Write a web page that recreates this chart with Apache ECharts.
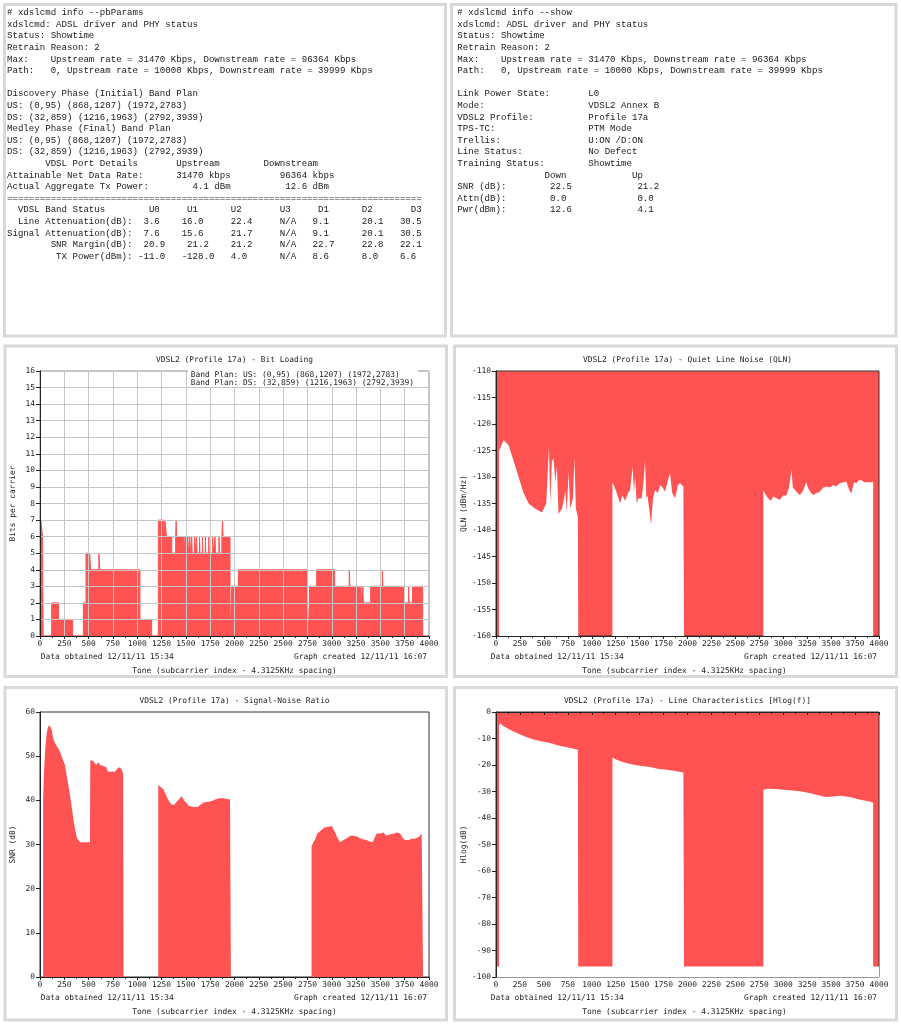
<!DOCTYPE html>
<html><head><meta charset="utf-8">
<script src="https://cdn.jsdelivr.net/npm/echarts@6/dist/echarts.min.js"></script>
<style>html,body{margin:0;padding:0;background:#fff}#c{width:901px;height:1024px}</style>
</head><body><div id="c"></div><script>
// ---------- data ----------
const toneMin = 0, toneMax = 4000, toneStep = 250;
const bitTicks = {min: 0, max: 16, interval: 1};
const qlnTicks = {min: -160, max: -110, interval: 5};
const snrTicks = {min: 0, max: 60, interval: 10};
const hlogTicks = {min: -100, max: 0, interval: 10};

const bandPlanUS = '(0,95) (868,1207) (1972,2783)';
const bandPlanDS = '(32,859) (1216,1963) (2792,3939)';
const dataObtained = 'Data obtained 12/11/11 15:34';
const graphCreated = 'Graph created 12/11/11 16:07';
const xAxisTitle = 'Tone (subcarrier index - 4.3125KHz spacing)';
const chartTitles = [
  'VDSL2 (Profile 17a) - Bit Loading',
  'VDSL2 (Profile 17a) - Quiet Line Noise (QLN)',
  'VDSL2 (Profile 17a) - Signal-Noise Ratio',
  'VDSL2 (Profile 17a) - Line Characteristics [Hlog(f)]'
];
const yNames = ['Bits per carrier', 'QLN (dBm/Hz)', 'SNR (dB)', 'Hlog(dB)'];

// bit loading: [tone, bits] change points (step)
const bitLoading = [[0,0],[8,7],[26,6],[32,0],[120,2],[190,1],[336,0],[446,2],[473,5],[500,3],[510,5],[521,4],[605,5],[615,4],[910,3],[918,4],[960,3],[968,4],[1028,1],[1148,0],
 [1217,7],[1268,6],[1285,7],[1300,6],[1355,5],[1395,6],[1400,7],[1405,6],[1470,5],[1480,6],[1490,5],[1500,6],[1505,5],[1520,6],[1525,5],[1540,6],[1545,5],[1560,6],[1565,5],[1590,6],[1597,5],[1610,6],[1615,5],[1640,6],[1645,5],[1670,6],[1675,5],[1700,6],[1705,5],[1735,6],[1740,5],[1775,6],[1780,5],[1800,6],[1805,5],[1840,6],[1845,5],[1870,6],[1877,7],[1882,6],[1954,0],
 [1972,3],[2040,4],[2370,3],[2378,4],[2420,3],[2428,4],[2625,3],[2633,4],[2680,3],[2688,4],[2750,2],[2765,0],
 [2772,3],[2845,4],[3030,3],[3090,2],[3098,3],[3180,4],[3186,3],[3290,2],[3300,3],[3305,2],[3320,3],[3325,2],[3400,3],[3520,4],[3526,3],[3728,2],[3740,3],[3745,2],[3790,3],[3795,2],[3830,3],[3935,0],[4000,0]];

// quiet line noise (dBm/Hz)
const qln = [[0,-160],[32,-160],[32,-125],[45,-124.5],[80,-123],[132,-124],[202,-128],[236,-130],[288,-133],[341,-135],[410,-136],[480,-136.7],[525,-135],[553,-124],[566,-135],[584,-127],[601,-126.5],[619,-131],[636,-128],[653,-137],[688,-136],[712,-134],[723,-132.5],[740,-136.5],[758,-129],[775,-136],[803,-134],[820,-126.5],[834,-136],[855,-137.5],[859,-137.5],[859,-160],
 [1216,-160],[1216,-131],[1240,-132],[1261,-133],[1296,-135],[1320,-133.5],[1348,-134.5],[1380,-133],[1400,-132.5],[1428,-128],[1440,-133],[1453,-130],[1470,-135],[1487,-134],[1522,-134],[1540,-131],[1557,-127],[1570,-134],[1581,-133.5],[1600,-136],[1619,-139],[1640,-134],[1661,-132.5],[1690,-133],[1713,-131.5],[1740,-132],[1765,-132.8],[1790,-131],[1817,-129.3],[1840,-133],[1870,-134],[1900,-131.5],[1922,-131.2],[1957,-131.8],[1963,-132],[1963,-160],
 [2792,-160],[2792,-132.5],[2820,-133.5],[2842,-134],[2870,-134.5],[2894,-133.7],[2930,-134],[2964,-134.3],[3000,-133.5],[3034,-133.5],[3060,-132],[3086,-128.7],[3100,-132],[3120,-131.8],[3150,-133],[3173,-133.4],[3210,-132.5],[3240,-131],[3260,-132.1],[3290,-133],[3312,-133.4],[3350,-133],[3381,-132.8],[3420,-132],[3451,-131.8],[3490,-132],[3520,-131.5],[3550,-131.8],[3590,-131.2],[3630,-131],[3659,-130.9],[3690,-132.5],[3711,-133.1],[3740,-131],[3763,-131.2],[3790,-130.6],[3816,-130.6],[3850,-131],[3868,-131.2],[3900,-131],[3939,-131],[3939,-160],[4000,-160]];

// signal-noise ratio (dB)
const snr = [[32,0],[32,40],[40,46],[45,48],[55,52],[69,55],[80,56.5],[93,57],[110,56.5],[120,56],[135,54],[154,53],[180,52],[206,51],[230,49.5],[257,48],[275,45.5],[291,43.5],[310,41],[326,38.5],[345,35.5],[360,33.5],[380,31.5],[411,30.5],[450,30.5],[514,30.5],[517,49],[540,49],[560,48.5],[580,48],[600,48.7],[617,48],[650,47.8],[680,47.5],[700,46.5],[720,46.5],[750,46.5],[771,46.5],[800,47.3],[823,47.5],[840,47],[855,46],[859,46],[859,0],
 [1216,0],[1216,43.5],[1240,43],[1268,42.5],[1300,41],[1320,40],[1354,39],[1380,39],[1410,39.8],[1440,40.5],[1457,41],[1480,40],[1500,39.5],[1530,38.8],[1577,38.5],[1620,38.5],[1650,39],[1680,39.5],[1714,39.6],[1760,39.8],[1800,40.2],[1840,40.5],[1885,40.5],[1920,40.3],[1954,40.2],[1963,40],[1963,0],
 [2792,0],[2792,29.5],[2810,30.5],[2830,31.2],[2850,32.5],[2880,33],[2920,33.8],[2960,34],[3000,34.2],[3017,34],[3040,32.5],[3060,31.5],[3085,30.5],[3120,31],[3160,31.5],[3190,32],[3222,32],[3260,31.8],[3290,31.4],[3320,31.2],[3359,31],[3390,30.7],[3420,30.5],[3440,31.5],[3462,32.5],[3500,32.5],[3530,32.7],[3565,32],[3600,32.3],[3640,32.5],[3670,32.7],[3702,32.5],[3730,31.5],[3752,31],[3790,31],[3820,31.3],[3850,31.3],[3874,31.5],[3900,31.8],[3925,32.5],[3939,32.5],[3939,0]];

// line characteristics Hlog (dB)
const hlog = [[0,-96],[32,-96],[32,-5],[45,-4.2],[80,-5.4],[150,-6.8],[219,-7.9],[300,-9.2],[393,-10.4],[480,-11.1],[566,-11.7],[650,-12.6],[740,-13.3],[800,-13.8],[855,-14.2],[859,-14.3],[859,-96],
 [1216,-96],[1216,-17.3],[1260,-18],[1331,-19],[1400,-19.6],[1435,-19.9],[1520,-20.4],[1609,-20.8],[1700,-21.5],[1783,-21.8],[1870,-22.3],[1957,-22.8],[1963,-22.9],[1963,-96],
 [2792,-96],[2792,-29.2],[2850,-29],[2920,-29.1],[2999,-29.3],[3090,-29.6],[3173,-29.9],[3260,-30.5],[3346,-31.2],[3410,-31.8],[3451,-32.1],[3520,-31.9],[3590,-31.6],[3650,-31.9],[3694,-32.1],[3770,-32.8],[3833,-33.3],[3900,-33.8],[3939,-34.2],[3939,-96],[4000,-96]];

// terminal text
function cols(parts){ let s=''; for (const [c,t] of parts){ while(s.length<c) s+=' '; if(s.length && s[s.length-1]!==' ' && c>0) s+=' '; s+=t; } return s; }
const headerLines = [
  'xdslcmd: ADSL driver and PHY status',
  'Status: Showtime',
  'Retrain Reason: 2',
  'Max:    Upstream rate = 31470 Kbps, Downstream rate = 96364 Kbps',
  'Path:   0, Upstream rate = 10000 Kbps, Downstream rate = 39999 Kbps',
  ''
];
const pbParamsLines = ['# xdslcmd info --pbParams'].concat(headerLines, [
  'Discovery Phase (Initial) Band Plan',
  'US: (0,95) (868,1207) (1972,2783)',
  'DS: (32,859) (1216,1963) (2792,3939)',
  'Medley Phase (Final) Band Plan',
  'US: (0,95) (868,1207) (1972,2783)',
  'DS: (32,859) (1216,1963) (2792,3939)',
  cols([[7,'VDSL Port Details'],[31,'Upstream'],[47,'Downstream']]),
  cols([[0,'Attainable Net Data Rate:'],[31,'31470 kbps'],[50,'96364 kbps']]),
  cols([[0,'Actual Aggregate Tx Power:'],[34,'4.1 dBm'],[51,'12.6 dBm']]),
  '============================================================================',
  cols([[2,'VDSL Band Status'],[26,'U0'],[33,'U1'],[41,'U2'],[50,'U3'],[57,'D1'],[65,'D2'],[74,'D3']]),
  cols([[2,'Line Attenuation(dB):'],[25,'3.6'],[32,'16.0'],[41,'22.4'],[50,'N/A'],[56,'9.1'],[65,'20.1'],[72,'30.5']]),
  cols([[0,'Signal Attenuation(dB):'],[25,'7.6'],[32,'15.6'],[41,'21.7'],[50,'N/A'],[56,'9.1'],[65,'20.1'],[72,'30.5']]),
  cols([[8,'SNR Margin(dB):'],[25,'20.9'],[33,'21.2'],[41,'21.2'],[50,'N/A'],[56,'22.7'],[65,'22.8'],[72,'22.1']]),
  cols([[9,'TX Power(dBm):'],[24,'-11.0'],[32,'-128.0'],[41,'4.0'],[50,'N/A'],[56,'8.6'],[65,'8.0'],[72,'6.6']])
]);
const showLines = ['# xdslcmd info --show'].concat(headerLines, [
  cols([[0,'Link Power State:'],[24,'L0']]),
  cols([[0,'Mode:'],[24,'VDSL2 Annex B']]),
  cols([[0,'VDSL2 Profile:'],[24,'Profile 17a']]),
  cols([[0,'TPS-TC:'],[24,'PTM Mode']]),
  cols([[0,'Trellis:'],[24,'U:ON /D:ON']]),
  cols([[0,'Line Status:'],[24,'No Defect']]),
  cols([[0,'Training Status:'],[24,'Showtime']]),
  cols([[16,'Down'],[32,'Up']]),
  cols([[0,'SNR (dB):'],[17,'22.5'],[33,'21.2']]),
  cols([[0,'Attn(dB):'],[17,'0.0'],[33,'0.0']]),
  cols([[0,'Pwr(dBm):'],[17,'12.6'],[33,'4.1']])
]);

// ---------- layout / style ----------
const RED = '#ff5353';
const MONO = '"DejaVu Sans Mono", monospace';
const TERM = '"Liberation Mono", monospace';
const chartFont = '7.9px ' + MONO;
const grids = [
  {left: 40, top: 371, width: 389, height: 265},
  {left: 496, top: 371, width: 383, height: 265},
  {left: 40, top: 712, width: 389, height: 265},
  {left: 496, top: 712, width: 383, height: 265}
];
const panelOffsetX = [0, 450, 0, 450];
const panelTopY = [340, 340, 681, 681];
const yTicks = [bitTicks, qlnTicks, snrTicks, hlogTicks];
const nameGaps = [23.5, 28, 23.5, 28.5];
const gridBg = ['#ffffff', RED, '#ffffff', RED];

const chart = echarts.init(document.getElementById('c'), null, {renderer: 'canvas'});
const plain = v => String(v);

const gridOpts = grids.map((g, i) => Object.assign({}, g, {
  show: true, backgroundColor: gridBg[i], borderColor: i === 0 ? '#8a8a8a' : '#333', borderWidth: 1, containLabel: false
}));
const xAxes = grids.map((g, i) => ({
  type: 'value', gridIndex: i, min: toneMin, max: toneMax, interval: toneStep, z: 5,
  axisLine: {show: true, lineStyle: {color: '#222', width: 1}},
  axisTick: {show: true, length: 3, lineStyle: {color: '#222'}},
  minorTick: {show: true, splitNumber: 2, length: 2, lineStyle: {color: '#222'}},
  axisLabel: {show: true, margin: 4, color: '#222', fontFamily: MONO, fontSize: 7.9, showMinLabel: true, showMaxLabel: true, formatter: plain},
  splitLine: {show: i === 0, lineStyle: {color: '#c6c6c6', width: 1}}
}));
const yAxes = grids.map((g, i) => ({
  type: 'value', gridIndex: i, min: yTicks[i].min, max: yTicks[i].max, interval: yTicks[i].interval, z: 5,
  name: yNames[i], nameLocation: 'middle', nameGap: nameGaps[i], nameRotate: 90,
  nameTextStyle: {fontFamily: MONO, fontSize: 7.9, color: '#222'},
  axisLine: {show: true, lineStyle: {color: '#222', width: 1}},
  axisTick: {show: true, length: 4, lineStyle: {color: '#222'}},
  axisLabel: {show: true, margin: 5, color: '#222', fontFamily: MONO, fontSize: 7.9, showMinLabel: true, showMaxLabel: true, formatter: plain},
  splitLine: {show: i === 0, lineStyle: {color: '#c6c6c6', width: 1}}
}));

const series = [
  {type: 'line', xAxisIndex: 0, yAxisIndex: 0, data: bitLoading, step: 'end', symbol: 'none',
   lineStyle: {color: RED, width: 1}, areaStyle: {color: RED, opacity: 1}},
  {type: 'line', xAxisIndex: 1, yAxisIndex: 1, data: qln, symbol: 'none',
   lineStyle: {color: '#fff', width: 0}, areaStyle: {color: '#fff', opacity: 1, origin: 'start'}},
  {type: 'line', xAxisIndex: 2, yAxisIndex: 2, data: snr, symbol: 'none',
   lineStyle: {color: RED, width: 0}, areaStyle: {color: RED, opacity: 1, origin: 'start'}},
  {type: 'line', xAxisIndex: 3, yAxisIndex: 3, data: hlog, symbol: 'none',
   lineStyle: {color: '#fff', width: 0}, areaStyle: {color: '#fff', opacity: 1, origin: 'start'}}
];

// graphics: panel frames, terminal text, chart titles/footers
const panels = [
  [4.5, 4.5, 441, 331.5], [451.5, 4.5, 444.5, 331.5],
  [5, 346, 441.5, 330.5], [454.5, 346, 442, 330.5],
  [5, 687.5, 441.5, 332.5], [454.5, 687.5, 442, 332.5]
];
const graphic = [];
panels.forEach(p => graphic.push({type: 'rect', z: 1, silent: true,
  shape: {x: p[0], y: p[1], width: p[2], height: p[3]},
  style: {fill: 'none', stroke: '#d9d9d9', lineWidth: 3}}));
graphic.push({type: 'text', z: 10, style: {x: 7, y: 6.9, text: pbParamsLines.join('\n'), font: '9.1px ' + TERM, fill: '#1a1a1a', lineHeight: 11.6, verticalAlign: 'top', align: 'left'}});
graphic.push({type: 'text', z: 10, style: {x: 457.3, y: 6.9, text: showLines.join('\n'), font: '9.1px ' + TERM, fill: '#1a1a1a', lineHeight: 11.6, verticalAlign: 'top', align: 'left'}});

grids.forEach((g, i) => {
  const ox = panelOffsetX[i], py = panelTopY[i];
  graphic.push({type: 'text', z: 10, style: {x: g.left + g.width / 2, y: py + 19.5, text: chartTitles[i], font: chartFont, fill: '#222', align: 'center', verticalAlign: 'middle'}});
  graphic.push({type: 'text', z: 10, style: {x: ox + 40.7, y: py + 316.5, text: dataObtained, font: chartFont, fill: '#222', align: 'left', verticalAlign: 'middle'}});
  graphic.push({type: 'text', z: 10, style: {x: ox + 427, y: py + 316.5, text: graphCreated, font: chartFont, fill: '#222', align: 'right', verticalAlign: 'middle'}});
  graphic.push({type: 'text', z: 10, style: {x: ox + 234.5, y: py + 330.5, text: xAxisTitle, font: chartFont, fill: '#222', align: 'center', verticalAlign: 'middle'}});
});
// band plan legend box in bit loading chart
graphic.push({type: 'rect', z: 20, shape: {x: 188, y: 369.5, width: 230, height: 17.5}, style: {fill: '#fff'}});
graphic.push({type: 'text', z: 21, style: {x: 190.7, y: 374.5, text: 'Band Plan: US: ' + bandPlanUS, font: chartFont, fill: '#222', align: 'left', verticalAlign: 'middle'}});
graphic.push({type: 'text', z: 21, style: {x: 190.7, y: 382.8, text: 'Band Plan: DS: ' + bandPlanDS, font: chartFont, fill: '#222', align: 'left', verticalAlign: 'middle'}});

chart.setOption({
  animation: false,
  backgroundColor: '#ffffff',
  grid: gridOpts,
  xAxis: xAxes,
  yAxis: yAxes,
  series: series,
  graphic: graphic
});
</script></body></html>
